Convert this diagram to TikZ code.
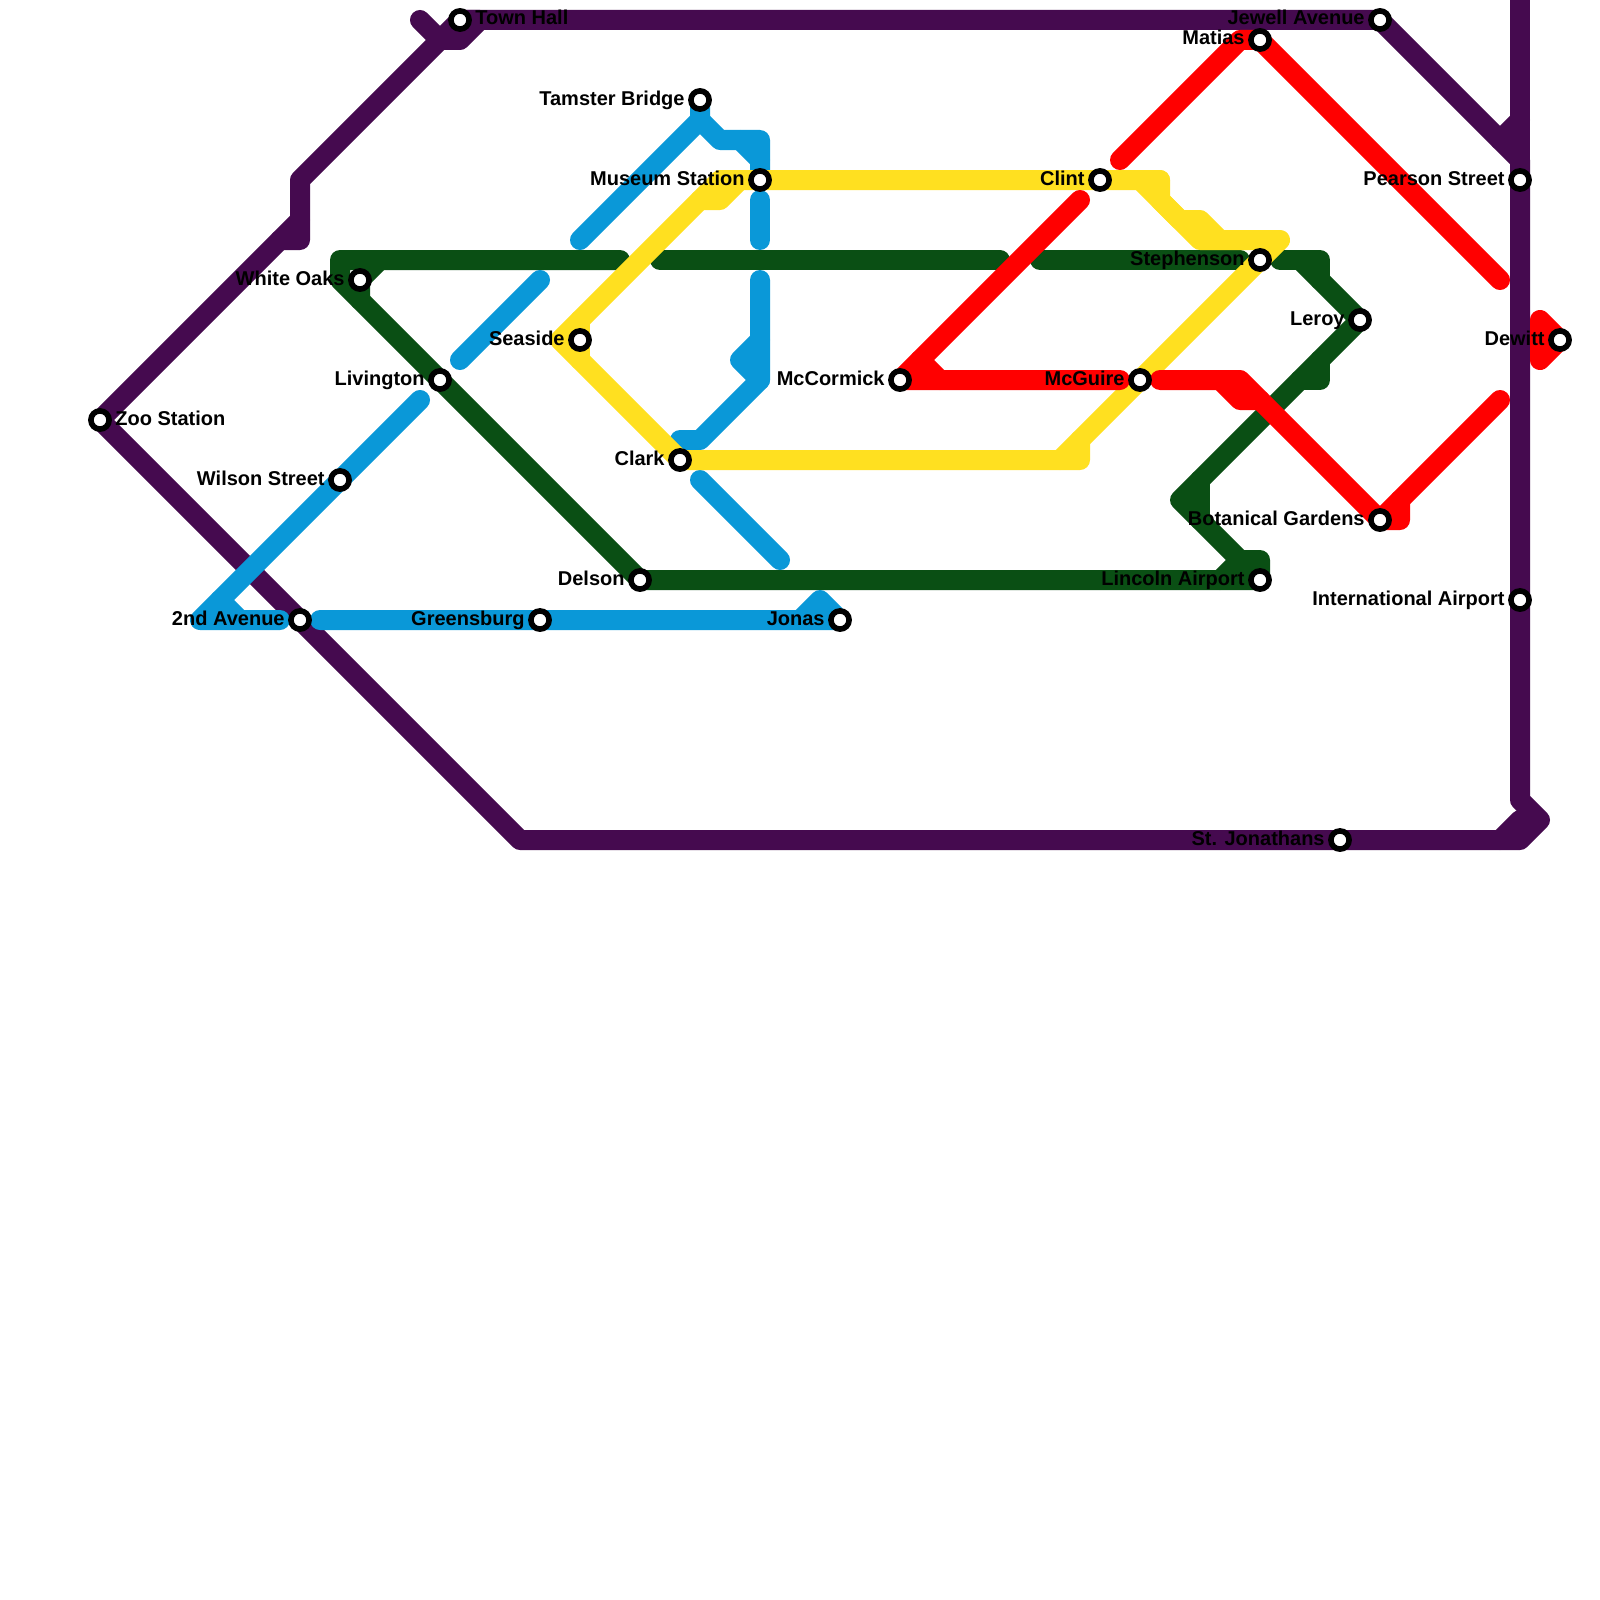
\documentclass[tikz,border=0pt]{standalone}
\usepackage{fontspec}
\setmainfont{Liberation Sans}
\pgfdeclarelayer{lines}
\pgfsetlayers{lines,main}
\definecolor{purpleline}{HTML}{450A4F}
\definecolor{greenline}{HTML}{0A4F14}
\definecolor{blueline}{HTML}{0A98D8}
\definecolor{yellowline}{HTML}{FFE020}
\definecolor{redline}{HTML}{FF0000}
\tikzset{
  x=0.5pt,y=-0.5pt,
  metro/.style={line width=10pt,line cap=round,line join=round},
  purple line/.style={metro,draw=purpleline},
  green line/.style={metro,draw=greenline},
  blue line/.style={metro,draw=blueline},
  yellow line/.style={metro,draw=yellowline},
  red line/.style={metro,draw=redline},
  stn/.style={circle,draw=black,fill=white,line width=2.8pt,outer sep=0pt,minimum size=9.1pt,inner sep=0pt},
  lab/.style={font=\bfseries\fontsize{10}{10}\selectfont,text=black,inner sep=0pt},
}
\newcommand{\stnL}[4]{\node[stn] (#1) at (#2,#3) {};
  \node[lab,anchor=base east] (#1-label) at (#2-15,#3+5) {#4};}
\newcommand{\stnR}[4]{\node[stn] (#1) at (#2,#3) {};
  \node[lab,anchor=base west] (#1-label) at (#2+15,#3+5) {#4};}
\begin{document}
\begin{tikzpicture}
\useasboundingbox (0,0) rectangle (1600,1600);
\foreach \i in {0,...,80}{\foreach \j in {-1,...,45}{\coordinate (g\i-\j) at (20*\i,20*\j);}}
\stnR{zoo}{100}{420}{Zoo Station}
\stnR{townhall}{460}{20}{Town Hall}
\stnL{whiteoaks}{360}{280}{White Oaks}
\stnL{livington}{440}{380}{Livington}
\stnL{seaside}{580}{340}{Seaside}
\stnL{wilson}{340}{480}{Wilson Street}
\stnL{second}{300}{620}{2nd Avenue}
\stnL{greensburg}{540}{620}{Greensburg}
\stnL{delson}{640}{580}{Delson}
\stnL{jonas}{840}{620}{Jonas}
\stnL{clark}{680}{460}{Clark}
\stnL{tamster}{700}{100}{Tamster Bridge}
\stnL{museum}{760}{180}{Museum Station}
\stnL{mccormick}{900}{380}{McCormick}
\stnL{clint}{1100}{180}{Clint}
\stnL{mcguire}{1140}{380}{McGuire}
\stnL{stephenson}{1260}{260}{Stephenson}
\stnL{lincoln}{1260}{580}{Lincoln Airport}
\stnL{leroy}{1360}{320}{Leroy}
\stnL{jewell}{1380}{20}{Jewell Avenue}
\stnL{matias}{1260}{40}{Matias}
\stnL{pearson}{1520}{180}{Pearson Street}
\stnL{dewitt}{1560}{340}{Dewitt}
\stnL{intl}{1520}{600}{International Airport}
\stnL{botanical}{1380}{520}{Botanical Gardens}
\stnL{jonathans}{1340}{840}{St. Jonathans}
\begin{pgfonlayer}{lines}
\fill[white] (0,0) rectangle (1600,1600);
% purple
\draw[purple line] (townhall.center) -- (jewell.center) -- (g76-8) -- (pearson.center) -- (intl.center) -- (g76-40) -- (g77-41) -- (g76-42) -- (jonathans.center) -- (g26-42) -- (second.center) -- (zoo.center) -- (g15-11);
\draw[purple line] (g14-12) -- (g15-12) -- (g15-9) -- (g22-2) -- (townhall.center);
\draw[purple line] (g21-1) -- (g22-2) -- (g23-2) -- (g24-1) -- (townhall.center);
\draw[purple line] (g76--1) -- (pearson.center);
\draw[purple line] (g75-7) -- (g76-6);
\draw[purple line] (g75-42) -- (g76-41);
% green
\draw[green line] (g31-13) -- (g17-13) -- (g17-14) -- (livington.center) -- (delson.center) -- (lincoln.center) -- (g63-28) -- (g62-28) -- (g59-25) -- (leroy.center) -- (g65-13);
\draw[green line] (g18-15) -- (whiteoaks.center) -- (g19-13);
\draw[green line] (g33-13) -- (g50-13);
\draw[green line] (g52-13) -- (g62-13);
\draw[green line] (g64-13) -- (g66-13) -- (g66-14);
\draw[green line] (g60-24) -- (g60-26);
\draw[green line] (g61-29) -- (g62-28);
\draw[green line] (g66-18) -- (g66-19) -- (g65-19);
% blue
\draw[blue line] (g29-12) -- (g35-6) -- (tamster.center);
\draw[blue line] (g35-6) -- (g36-7) -- (g38-7) -- (g38-8) -- (museum.center);
\draw[blue line] (g37-7) -- (g38-8);
\draw[blue line] (g38-10) -- (g38-12);
\draw[blue line] (g38-14) -- (g38-19) -- (g35-22) -- (g34-22);
\draw[blue line] (g38-17) -- (g37-18) -- (g38-19);
\draw[blue line] (g35-24) -- (g39-28);
\draw[blue line] (g23-18) -- (g27-14);
\draw[blue line] (g21-20) -- (wilson.center) -- (g10-31) -- (g14-31);
\draw[blue line] (g11-30) -- (g12-31);
\draw[blue line] (g16-31) -- (greensburg.center) -- (jonas.center) -- (g41-30) -- (g40-31);
% yellow
\draw[yellow line] (g58-9) -- (g57-9) -- (clint.center) -- (museum.center) -- (g36-9) -- (g35-10) -- (g28-17) -- (clark.center) -- (g53-23) -- (g54-23) -- (g54-22);
\draw[yellow line] (g35-10) -- (g36-10) -- (g37-9);
\draw[yellow line] (g29-16) -- (seaside.center) -- (g29-18);
\draw[yellow line] (g53-23) -- (mcguire.center) -- (stephenson.center) -- (g64-12) -- (g60-12) -- (g57-9);
\draw[yellow line] (g58-9) -- (g58-10) -- (g59-11) -- (g60-11) -- (g61-12);
% red
\draw[red line] (g56-8) -- (g62-2) -- (matias.center) -- (g75-14);
\draw[red line] (g54-10) -- (mccormick.center) -- (g56-19);
\draw[red line] (g46-18) -- (g47-19);
\draw[red line] (g58-19) -- (g62-19) -- (botanical.center) -- (g70-26) -- (g70-25);
\draw[red line] (g61-19) -- (g62-20) -- (g63-20);
\draw[red line] (botanical.center) -- (g75-20);
\draw[red line] (g77-16) -- (dewitt.center) -- (g77-18) -- cycle;
\end{pgfonlayer}
\end{tikzpicture}
\end{document}
